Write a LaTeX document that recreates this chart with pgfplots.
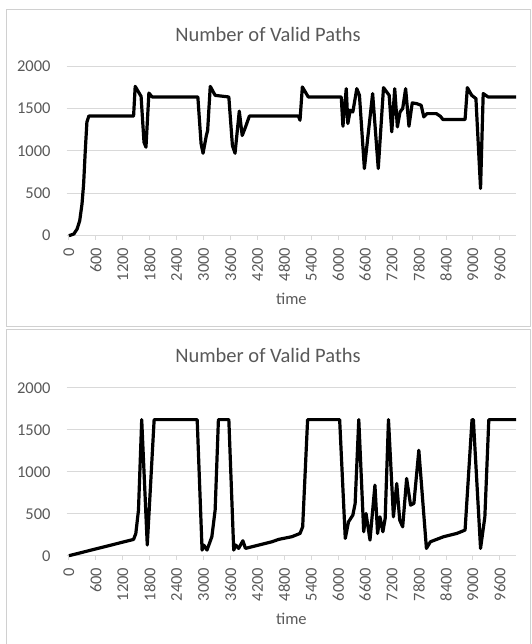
\documentclass[border=0pt]{standalone}
\usepackage{pgfplots}
\pgfplotsset{compat=1.18}
\usepackage{fontspec}
\setmainfont{Carlito}
\definecolor{txt}{HTML}{595959}
\definecolor{grd}{HTML}{D9D9D9}
\definecolor{frm}{HTML}{D0D0D0}
\newcommand\tlf{\fontsize{16.5}{18}\selectfont\color{txt}}
\pgfplotsset{panel/.style={
  scale only axis, width=449.3pt,
  xmin=-50, xmax=9960, ymin=0, ymax=2000,
  xtick={0,600,...,9600}, ytick={0,500,...,2000},
  ymajorgrids, major grid style={grd, line width=0.9pt},
  axis lines*=left, y axis line style={draw=none},
  x axis line style={grd, line width=0.9pt, -},
  ytick style={draw=none}, xtick style={grd, line width=0.9pt},
  tick align=outside, major tick length=4pt,
  /pgf/number format/1000 sep={}, /pgf/number format/assume math mode=true,
  scaled ticks=false,
  xticklabel={\tlf\pgfmathprintnumber{\tick}},
  yticklabel={\tlf\pgfmathprintnumber{\tick}},
  xticklabel style={rotate=90, anchor=east, inner sep=0pt},
  yticklabel style={anchor=east, inner sep=0pt},
  xticklabel shift=8pt, yticklabel shift=12pt,
  xlabel={time},
  xlabel style={font=\fontsize{16.5}{18}\selectfont, text=txt, anchor=center},
  clip=false,
},
vp/.style={black, line width=3.2pt, line join=round, no marks}}
\begin{document}
\begin{tikzpicture}
\path[use as bounding box] (0,0) rectangle (531pt,-644pt);
\draw[frm, line width=1pt] (6.5pt,-9.5pt) rectangle (530pt,-326pt);
\draw[frm, line width=1pt] (6.5pt,-329.5pt) rectangle (530pt,-660pt);
\node[font=\fontsize{20.5}{22}\selectfont, text=txt] at (268pt,-34.3pt) {Number of Valid Paths};
\node[font=\fontsize{20.5}{22}\selectfont, text=txt] at (268pt,-355pt) {Number of Valid Paths};
\begin{axis}[panel, height=169.7pt, at={(66.7pt,-235.7pt)}, anchor=south west,
  xlabel style={at={(axis description cs:0.5,-0.373)}}]
\addplot[vp] coordinates {
(0,0) (109,20) (182,79) (240,177) (291,374) (327,610) (364,1004) (400,1339) (443,1410)
(1440,1410) (1476,1760) (1607,1642) (1672,1102) (1716,1043) (1781,1681) (1854,1635)
(2872,1635) (2944,1083) (2988,972) (3061,1181) (3090,1240) (3148,1760) (3257,1654)
(3562,1635) (3642,1063) (3700,972) (3795,1468) (3860,1181) (3933,1280) (4020,1410)
(5111,1410) (5148,1361) (5200,1753) (5332,1635) (6067,1635) (6104,1290) (6178,1733)
(6214,1322) (6266,1478) (6325,1459) (6413,1733) (6472,1655) (6582,792) (6766,1675)
(6891,792) (7008,1745) (7134,1655) (7192,1224) (7258,1733) (7317,1282) (7376,1459)
(7435,1498) (7501,1733) (7575,1290) (7648,1565) (7744,1557) (7847,1537) (7906,1400)
(7979,1439) (8185,1439) (8273,1408) (8332,1369) (8825,1369) (8876,1745) (8972,1655)
(9067,1616) (9170,557) (9229,1675) (9339,1635) (9960,1635)
};
\end{axis}
\begin{axis}[panel, height=168pt, at={(66.7pt,-555.7pt)}, anchor=south west,
  xlabel style={at={(axis description cs:0.5,-0.377)}}]
\addplot[vp] coordinates {
(0,0) (1440,194) (1490,265) (1549,543) (1621,1620) (1745,127) (1898,1620)
(2857,1620) (2966,67) (3003,127) (3076,67) (3184,226) (3257,543) (3330,1620)
(3562,1620) (3671,67) (3715,127) (3780,87) (3875,178) (3933,87)
(4523,166) (4670,194) (4964,226) (5148,265) (5207,344) (5317,1620)
(6031,1620) (6156,206) (6229,404) (6325,483) (6376,622) (6457,1620) (6567,285)
(6619,503) (6707,186) (6817,840) (6876,265) (6928,463) (6994,285) (7045,444)
(7119,1620) (7229,463) (7303,859) (7369,424) (7435,344) (7523,919) (7611,602)
(7685,622) (7795,1255) (7964,87) (8053,166) (8347,226) (8641,265) (8825,305)
(8980,1620) (9010,1620) (9170,87) (9266,463) (9354,1620) (9960,1620)
};
\end{axis}
\end{tikzpicture}
\end{document}
